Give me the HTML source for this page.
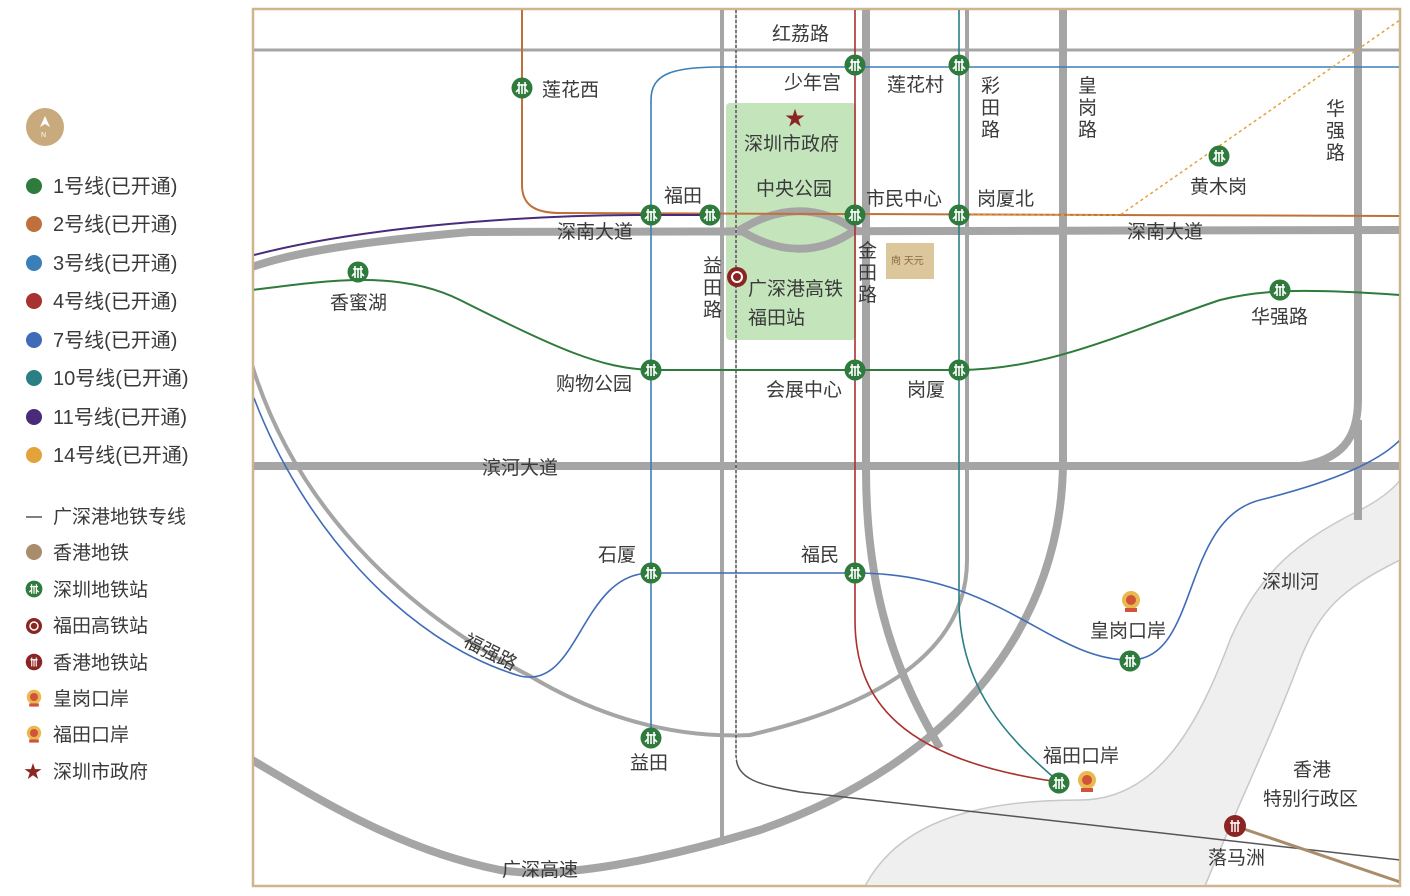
<!DOCTYPE html>
<html><head><meta charset="utf-8"><style>
html,body{margin:0;padding:0;background:#fff;}
svg{display:block;}
text{font-family:"Liberation Sans","Noto Sans CJK SC",sans-serif;fill:#3a3a3a;}
</style></head><body>
<svg width="1410" height="896" viewBox="0 0 1410 896" xmlns="http://www.w3.org/2000/svg">
<defs>
<g id="st"><circle r="10.5" fill="#2f7a3d"/><path d="M-5,-3 H5 M-3,-6 V6 M3,-6 V6 M0,-4 V6 M-6,4 L-3,1 M6,4 L3,1" stroke="#fff" stroke-width="1.6" fill="none"/></g>
<g id="hk"><circle r="11" fill="#8a2524"/><path d="M-5,-3 H5 M-3,-6 V6 M3,-6 V6 M0,-4 V6" stroke="#fff" stroke-width="1.5" fill="none"/></g>
<g id="port"><circle r="9" fill="#e9b94f"/><circle r="5" fill="#d0533a"/><rect x="-6" y="8" width="12" height="4" fill="#d0533a"/></g>
</defs>
<!-- legend -->
<circle cx="45" cy="127" r="19" fill="#c8aa7c"/>
<path d="M45,116 L40,127 L45,124 L50,127Z" fill="#fff"/>
<text x="41" y="137" font-size="7" style="fill:#fff">N</text>
<g font-size="20">
<circle cx="34" cy="186" r="8" fill="#2f7a3d"/><text x="53" y="193">1号线(已开通)</text>
<circle cx="34" cy="224" r="8" fill="#c0703a"/><text x="53" y="231">2号线(已开通)</text>
<circle cx="34" cy="263" r="8" fill="#3a7fb8"/><text x="53" y="270">3号线(已开通)</text>
<circle cx="34" cy="301" r="8" fill="#a8322e"/><text x="53" y="308">4号线(已开通)</text>
<circle cx="34" cy="340" r="8" fill="#3f6cb8"/><text x="53" y="347">7号线(已开通)</text>
<circle cx="34" cy="378" r="8" fill="#2a7e84"/><text x="53" y="385">10号线(已开通)</text>
<circle cx="34" cy="417" r="8" fill="#4a2a7a"/><text x="53" y="424">11号线(已开通)</text>
<circle cx="34" cy="455" r="8" fill="#e4a23a"/><text x="53" y="462">14号线(已开通)</text>
</g>
<g font-size="19">
<line x1="26" y1="517" x2="42" y2="517" stroke="#555" stroke-width="1.5"/><text x="53" y="523">广深港地铁专线</text>
<circle cx="34" cy="552" r="8" fill="#a98c6c"/><text x="53" y="559">香港地铁</text>
<use href="#st" transform="translate(34,589) scale(0.8)"/><text x="53" y="596">深圳地铁站</text>
<circle cx="34" cy="626" r="8" fill="#8a2524"/><circle cx="34" cy="626" r="4" fill="none" stroke="#fff" stroke-width="1.5"/><text x="53" y="632">福田高铁站</text>
<use href="#hk" transform="translate(34,662) scale(0.75)"/><text x="53" y="669">香港地铁站</text>
<use href="#port" transform="translate(34,697) scale(0.8)"/><text x="53" y="705">皇岗口岸</text>
<use href="#port" transform="translate(34,733) scale(0.8)"/><text x="53" y="741">福田口岸</text>
<text x="24" y="778" font-size="18" style="fill:#8a2524">★</text><text x="53" y="778">深圳市政府</text>
</g>

<!-- map -->
<rect x="253" y="9" width="1147" height="877" fill="#fff" stroke="#cdb68e" stroke-width="2.5"/>
<svg x="254" y="10" width="1145" height="875" viewBox="254 10 1145 875">
<!-- river -->
<path d="M865,886 C900,820 980,800 1080,800 C1160,800 1200,720 1230,640 C1260,570 1300,540 1360,510 C1390,495 1400,480 1400,480 L1400,560 C1340,590 1320,610 1300,660 C1270,740 1240,800 1205,886 Z" fill="#efefef" stroke="#c8c8c8" stroke-width="1.5"/>
<!-- green park -->
<rect x="726" y="103" width="130" height="237" rx="4" fill="#c4e5bc"/>
<!-- roads -->
<g stroke="#a5a5a5" fill="none">
<line x1="252" y1="50" x2="1400" y2="50" stroke-width="3"/>
<path d="M252,267 C300,250 380,240 470,232 L1400,230" stroke-width="8"/>
<path d="M740,230 C780,205 820,205 855,230 C820,255 780,255 740,230Z" stroke-width="8" fill="#c4e5bc"/>
<line x1="252" y1="466" x2="1400" y2="466" stroke-width="8"/>
<line x1="722" y1="8" x2="722" y2="845" stroke-width="4"/>
<path d="M866,8 L866,470 C866,600 900,680 940,748" stroke-width="8"/>
<path d="M967,8 L967,560 C967,640 900,700 750,735 C650,740 570,700 530,676 C420,620 300,520 252,365" stroke-width="4"/>
<path d="M1063,8 L1063,460 C1063,620 960,760 760,830 C660,860 560,880 500,870 C400,850 320,800 252,760" stroke-width="8"/>
<path d="M1358,8 L1358,400 C1358,440 1340,460 1300,466" stroke-width="8"/>
<line x1="1358" y1="420" x2="1358" y2="520" stroke-width="8"/>
</g>
<!-- 广深港 -->
<path d="M736,8 L736,755 C736,780 760,785 800,792 L1400,860" stroke="#555" stroke-width="1.5" fill="none"/>
<line x1="736" y1="8" x2="736" y2="760" stroke="#fff" stroke-width="1" stroke-dasharray="2,3"/>
<!-- metro lines -->
<g fill="none" stroke-width="2">
<path d="M252,290 C330,280 400,270 460,300 C560,350 600,368 651,370 L959,370 C1050,370 1130,330 1220,300 C1260,290 1300,288 1400,295" stroke="#2f7a3d"/>
<path d="M522,8 L522,185 C522,205 535,213 560,213 L1400,216" stroke="#c0703a"/>
<path d="M651,745 L651,100 C651,75 670,67 720,67 L1400,67" stroke="#3a7fb8" stroke-width="1.6"/>
<path d="M855,8 L855,620 C855,700 900,760 1059,782" stroke="#a8322e" stroke-width="1.6"/>
<path d="M959,8 L959,600 C959,690 1010,740 1059,782" stroke="#2a7e84" stroke-width="1.6"/>
<path d="M254,398 C300,520 400,640 520,676 C580,690 580,573 651,573 L855,573 C1000,573 1050,660 1130,660 C1200,660 1180,520 1260,500 C1340,480 1380,460 1400,440" stroke="#3f6cb8" stroke-width="1.6"/>
<path d="M254,255 C350,230 500,215 651,215 L710,215" stroke="#4a2a7a"/>
<path d="M959,215 L1120,215 L1400,20" stroke="#e4a23a" stroke-dasharray="3,3" stroke-width="1.5"/>
<line x1="1235" y1="826" x2="1400" y2="882" stroke="#a98c6c" stroke-width="3"/>
</g>
<!-- stations -->
<use href="#st" x="522" y="88"/><use href="#st" x="855" y="65"/><use href="#st" x="959" y="65"/>
<use href="#st" x="651" y="215"/><use href="#st" x="710" y="215"/><use href="#st" x="855" y="215"/><use href="#st" x="959" y="215"/>
<use href="#st" x="1219" y="156"/><use href="#st" x="358" y="272"/><use href="#st" x="1280" y="290"/>
<use href="#st" x="651" y="370"/><use href="#st" x="855" y="370"/><use href="#st" x="959" y="370"/>
<use href="#st" x="651" y="573"/><use href="#st" x="855" y="573"/><use href="#st" x="1130" y="661"/>
<use href="#st" x="651" y="738"/><use href="#st" x="1059" y="783"/>
<use href="#port" x="1131" y="600"/><use href="#port" x="1087" y="780"/>
<use href="#hk" x="1235" y="826"/>
<circle cx="737" cy="277" r="10" fill="#8a2524"/><circle cx="737" cy="277" r="5" fill="none" stroke="#fff" stroke-width="2"/>
<rect x="886" y="243" width="48" height="36" fill="#dcc79c"/><text x="891" y="264" font-size="10" style="fill:#8a6d3e">㕯 天元</text>
<text x="785" y="125" font-size="20" style="fill:#8a2524">★</text>
<!-- labels -->
<g font-size="19">
<text x="772" y="40">红荔路</text>
<text x="542" y="96">莲花西</text>
<text x="784" y="89">少年宫</text>
<text x="887" y="91">莲花村</text>
<text x="744" y="150">深圳市政府</text>
<text x="756" y="195">中央公园</text>
<text x="664" y="202">福田</text>
<text x="866" y="205">市民中心</text>
<text x="977" y="205">岗厦北</text>
<text x="557" y="238">深南大道</text>
<text x="1127" y="238">深南大道</text>
<text x="1190" y="193">黄木岗</text>
<text x="330" y="309">香蜜湖</text>
<text x="748" y="295">广深港高铁</text>
<text x="748" y="324">福田站</text>
<text x="1251" y="323">华强路</text>
<text x="556" y="390">购物公园</text>
<text x="766" y="396">会展中心</text>
<text x="907" y="396">岗厦</text>
<text x="482" y="474">滨河大道</text>
<text x="598" y="561">石厦</text>
<text x="801" y="561">福民</text>
<text x="1262" y="588">深圳河</text>
<text x="1090" y="637">皇岗口岸</text>
<text x="630" y="769">益田</text>
<text x="1043" y="762">福田口岸</text>
<text x="1293" y="776">香港</text>
<text x="1263" y="805">特别行政区</text>
<text x="1208" y="864">落马洲</text>
<text x="502" y="876">广深高速</text>
<text x="462" y="645" transform="rotate(27 462 645)">福强路</text>
</g>
<g font-size="19">
<text x="981" y="92">彩</text><text x="981" y="114">田</text><text x="981" y="136">路</text>
<text x="1078" y="92">皇</text><text x="1078" y="114">岗</text><text x="1078" y="136">路</text>
<text x="1326" y="115">华</text><text x="1326" y="137">强</text><text x="1326" y="159">路</text>
<text x="703" y="272">益</text><text x="703" y="294">田</text><text x="703" y="316">路</text>
<text x="858" y="257">金</text><text x="858" y="279">田</text><text x="858" y="301">路</text>
</g>
</svg>
</svg>
</body></html>
